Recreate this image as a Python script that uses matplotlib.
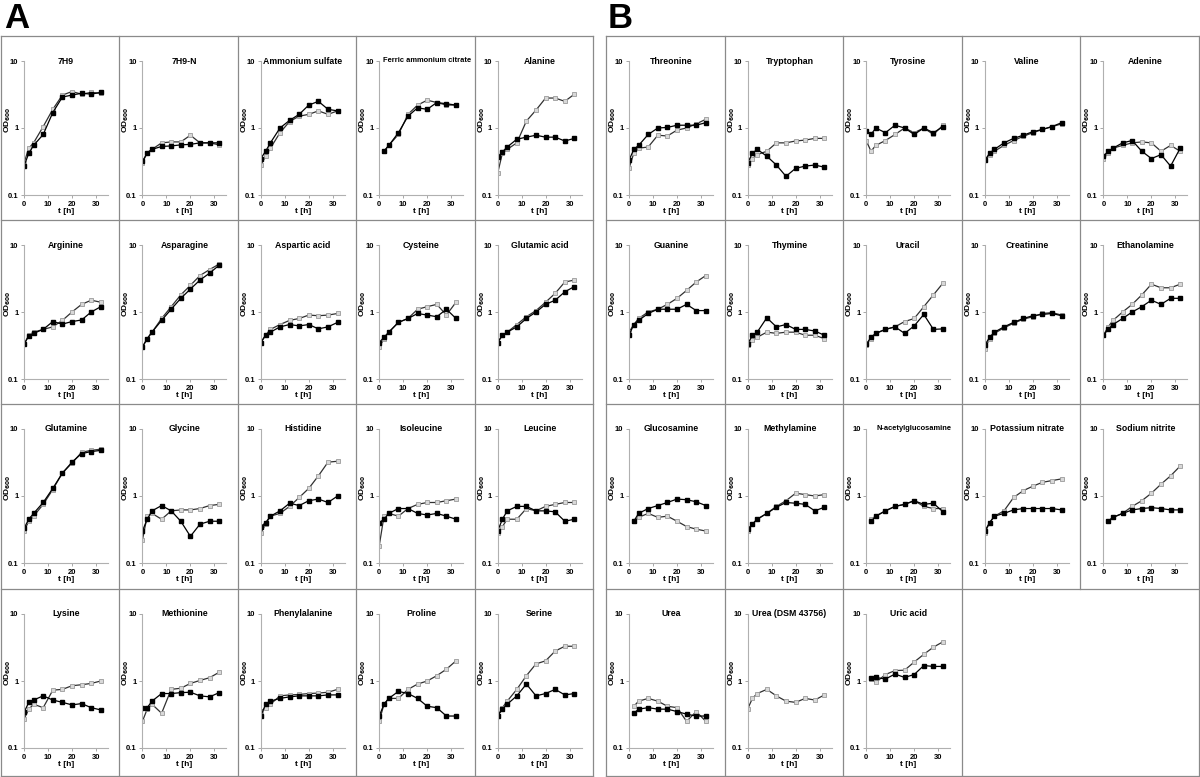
import matplotlib
matplotlib.use("Agg")
import matplotlib.pyplot as plt
from matplotlib.lines import Line2D

plt.rcParams['font.family'] = ['Liberation Sans', 'DejaVu Sans']
plt.rcParams['font.weight'] = 'bold'

# sampling times
T10 = [0, 2, 4, 8, 12, 16, 20, 24, 28, 32]
T9 = [2, 4, 8, 12, 16, 20, 24, 28, 32]

# Panel A
a_titles = ["7H9", "7H9-N", "Ammonium sulfate", "Ferric ammonium citrate", "Alanine",
            "Arginine", "Asparagine", "Aspartic acid", "Cysteine", "Glutamic acid",
            "Glutamine", "Glycine", "Histidine", "Isoleucine", "Leucine",
            "Lysine", "Methionine", "Phenylalanine", "Proline", "Serine"]
a_times = [T10, T10, T10, T9, T10,
           T10, T10, T10, T10, T10,
           T10, T10, T10, T10, T10,
           T10, T10, T10, T10, T10]
a_black = [
    [0.27, 0.42, 0.55, 0.8, 1.7, 2.9, 3.1, 3.3, 3.2, 3.4],
    [0.32, 0.42, 0.48, 0.53, 0.54, 0.56, 0.57, 0.6, 0.6, 0.6],
    [0.35, 0.45, 0.6, 1.0, 1.3, 1.6, 2.2, 2.5, 1.9, 1.8],
    [0.45, 0.55, 0.85, 1.5, 2.0, 1.9, 2.4, 2.3, 2.2],
    [0.37, 0.44, 0.52, 0.68, 0.73, 0.78, 0.73, 0.73, 0.64, 0.7],
    [0.33, 0.44, 0.48, 0.55, 0.72, 0.66, 0.72, 0.76, 1.0, 1.2],
    [0.3, 0.4, 0.5, 0.75, 1.1, 1.6, 2.2, 3.0, 3.8, 5.0],
    [0.35, 0.45, 0.5, 0.6, 0.65, 0.62, 0.65, 0.56, 0.6, 0.7],
    [0.35, 0.42, 0.5, 0.7, 0.8, 0.95, 0.9, 0.85, 1.1, 0.8],
    [0.35, 0.45, 0.5, 0.6, 0.8, 1.0, 1.3, 1.5, 2.0, 2.4],
    [0.33, 0.45, 0.55, 0.8, 1.3, 2.2, 3.2, 4.3, 4.6, 4.8],
    [0.3, 0.45, 0.6, 0.72, 0.6, 0.42, 0.25, 0.38, 0.42, 0.42],
    [0.35, 0.4, 0.5, 0.6, 0.78, 0.72, 0.85, 0.9, 0.8, 1.0],
    [0.4, 0.45, 0.55, 0.65, 0.65, 0.55, 0.52, 0.55, 0.5, 0.45],
    [0.3, 0.45, 0.6, 0.7, 0.7, 0.6, 0.6, 0.58, 0.42, 0.45],
    [0.34, 0.48, 0.52, 0.6, 0.52, 0.48, 0.44, 0.46, 0.4, 0.37],
    [0.4, 0.4, 0.5, 0.65, 0.65, 0.67, 0.68, 0.6, 0.58, 0.67],
    [0.3, 0.45, 0.5, 0.55, 0.58, 0.6, 0.6, 0.6, 0.62, 0.62],
    [0.3, 0.45, 0.55, 0.7, 0.65, 0.55, 0.42, 0.4, 0.3, 0.3],
    [0.3, 0.38, 0.45, 0.6, 0.9, 0.6, 0.65, 0.75, 0.62, 0.65],
]
a_gray = [
    [0.3, 0.5, 0.6, 1.05, 1.9, 3.1, 3.5, 3.2, 3.4, 3.3],
    [0.3, 0.43, 0.48, 0.6, 0.62, 0.62, 0.78, 0.6, 0.6, 0.56],
    [0.28, 0.38, 0.5, 0.85, 1.25, 1.5, 1.6, 1.8, 1.6, 1.8],
    [0.45, 0.55, 0.8, 1.6, 2.2, 2.6, 2.4, 2.2, 2.2],
    [0.21, 0.42, 0.48, 0.6, 1.27, 1.85, 2.8, 2.8, 2.5, 3.2],
    [0.33, 0.45, 0.5, 0.55, 0.6, 0.75, 1.0, 1.3, 1.5, 1.4],
    [0.3, 0.4, 0.5, 0.8, 1.2, 1.8, 2.5, 3.5, 4.3, 5.2],
    [0.35, 0.45, 0.55, 0.65, 0.75, 0.8, 0.9, 0.88, 0.9, 0.95],
    [0.3, 0.4, 0.5, 0.7, 0.8, 1.1, 1.2, 1.3, 0.9, 1.4],
    [0.35, 0.45, 0.5, 0.65, 0.85, 1.05, 1.4, 1.9, 2.8, 3.0],
    [0.3, 0.42, 0.5, 0.75, 1.25, 2.2, 3.1, 4.5, 4.8, 5.0],
    [0.22, 0.5, 0.55, 0.45, 0.6, 0.62, 0.62, 0.65, 0.72, 0.75],
    [0.28, 0.38, 0.5, 0.55, 0.7, 0.95, 1.3, 2.0, 3.2, 3.3],
    [0.18, 0.5, 0.55, 0.5, 0.65, 0.75, 0.8, 0.8, 0.85, 0.9],
    [0.28, 0.35, 0.45, 0.45, 0.65, 0.6, 0.7, 0.75, 0.8, 0.8],
    [0.27, 0.38, 0.45, 0.4, 0.73, 0.75, 0.85, 0.88, 0.92, 1.0],
    [0.25, 0.38, 0.45, 0.33, 0.75, 0.78, 0.92, 1.02, 1.12, 1.35],
    [0.35, 0.4, 0.45, 0.6, 0.62, 0.63, 0.65, 0.66, 0.68, 0.75],
    [0.25, 0.45, 0.55, 0.55, 0.75, 0.9, 1.0, 1.2, 1.5, 2.0],
    [0.3, 0.4, 0.5, 0.75, 1.2, 1.8, 2.0, 2.8, 3.3, 3.3],
]

# Panel B
b_titles = ["Threonine", "Tryptophan", "Tyrosine", "Valine", "Adenine",
            "Guanine", "Thymine", "Uracil", "Creatinine", "Ethanolamine",
            "Glucosamine", "Methylamine", "N-acetylglucosamine", "Potassium nitrate", "Sodium nitrite",
            "Urea", "Urea (DSM 43756)", "Uric acid"]
b_times = [T10, T10, T10, T10, T10,
           T10, T10, T10, T10, T10,
           T9, T10, T9, T10, T9,
           T9, T10, T9]
b_black = [
    [0.33, 0.48, 0.55, 0.8, 1.0, 1.02, 1.1, 1.1, 1.1, 1.2],
    [0.3, 0.42, 0.48, 0.38, 0.28, 0.19, 0.25, 0.27, 0.28, 0.26],
    [0.9, 0.8, 1.0, 0.85, 1.1, 1.0, 0.8, 1.0, 0.85, 1.05],
    [0.33, 0.42, 0.48, 0.6, 0.7, 0.78, 0.88, 0.95, 1.05, 1.2],
    [0.38, 0.45, 0.5, 0.6, 0.65, 0.45, 0.35, 0.4, 0.27, 0.5],
    [0.45, 0.65, 0.75, 0.95, 1.1, 1.1, 1.1, 1.3, 1.05, 1.05],
    [0.33, 0.45, 0.5, 0.82, 0.6, 0.65, 0.55, 0.55, 0.52, 0.45],
    [0.33, 0.42, 0.48, 0.55, 0.6, 0.48, 0.62, 0.92, 0.55, 0.56],
    [0.32, 0.42, 0.5, 0.6, 0.7, 0.8, 0.88, 0.92, 0.95, 0.88],
    [0.45, 0.55, 0.65, 0.8, 1.0, 1.2, 1.5, 1.3, 1.6, 1.6],
    [0.42, 0.55, 0.65, 0.72, 0.8, 0.9, 0.88, 0.82, 0.72],
    [0.32, 0.38, 0.45, 0.55, 0.68, 0.8, 0.78, 0.75, 0.6, 0.68],
    [0.42, 0.5, 0.6, 0.7, 0.75, 0.85, 0.75, 0.78, 0.58],
    [0.3, 0.4, 0.5, 0.55, 0.62, 0.65, 0.65, 0.65, 0.65, 0.62],
    [0.42, 0.48, 0.55, 0.62, 0.65, 0.67, 0.65, 0.62, 0.62],
    [0.33, 0.38, 0.4, 0.38, 0.38, 0.35, 0.32, 0.3, 0.3],
    None,
    [1.09, 1.13, 1.07, 1.27, 1.13, 1.25, 1.7, 1.65, 1.65],
]
b_gray = [
    [0.25, 0.42, 0.5, 0.52, 0.78, 0.76, 0.93, 1.0, 1.15, 1.35],
    [0.28, 0.35, 0.4, 0.45, 0.6, 0.6, 0.64, 0.66, 0.7, 0.7],
    [0.65, 0.45, 0.55, 0.65, 0.8, 1.0, 0.85, 1.0, 0.8, 1.1],
    [0.33, 0.4, 0.45, 0.55, 0.65, 0.75, 0.85, 0.95, 1.05, 1.15],
    [0.35, 0.42, 0.5, 0.55, 0.6, 0.62, 0.6, 0.45, 0.55, 0.45],
    [0.5, 0.65, 0.8, 1.0, 1.1, 1.3, 1.6, 2.1, 2.8, 3.5],
    [0.32, 0.38, 0.42, 0.5, 0.48, 0.5, 0.5, 0.45, 0.45, 0.4],
    [0.32, 0.4, 0.48, 0.55, 0.6, 0.72, 0.8, 1.2, 1.8, 2.7],
    [0.28, 0.4, 0.48, 0.58, 0.68, 0.78, 0.85, 0.95, 0.98, 0.9],
    [0.45, 0.6, 0.75, 1.0, 1.3, 1.8, 2.6, 2.3, 2.3, 2.6],
    [0.42, 0.48, 0.55, 0.48, 0.5, 0.42, 0.35, 0.32, 0.3],
    [0.3, 0.38, 0.45, 0.55, 0.7, 0.85, 1.1, 1.05, 1.0, 1.05],
    [0.45, 0.5, 0.6, 0.7, 0.75, 0.85, 0.7, 0.65, 0.65],
    [0.28, 0.4, 0.5, 0.6, 0.95, 1.2, 1.4, 1.6, 1.7, 1.8],
    [0.42, 0.48, 0.55, 0.7, 0.85, 1.1, 1.5, 2.0, 2.8],
    [0.42, 0.5, 0.55, 0.5, 0.42, 0.4, 0.25, 0.35, 0.25],
    [0.38, 0.55, 0.65, 0.75, 0.6, 0.5, 0.48, 0.55, 0.52, 0.62],
    [1.06, 0.95, 1.25, 1.43, 1.45, 1.92, 2.5, 3.2, 3.85],
]

W, H = 1200, 777
fig = plt.figure(figsize=(12, 7.77), dpi=100)
fig.patch.set_facecolor('white')

row_tops = [36, 220, 404, 589]
frame_col = '#8a8a8a'


def fx(x):
    return x / W


def fy(y):
    return 1 - y / H


def hline(x0, x1, y):
    fig.add_artist(Line2D([fx(x0), fx(x1)], [fy(y), fy(y)], color=frame_col, lw=0.9))


def vline(x, y0, y1):
    fig.add_artist(Line2D([fx(x), fx(x)], [fy(y0), fy(y1)], color=frame_col, lw=0.9))


def draw_cell(x0, top, title, t, black, gray):
    left = x0 + 23
    ax = fig.add_axes([fx(left), fy(top + 159), 84 / W, 134 / H])
    if gray is not None:
        ax.plot(t, gray, '-s', color='#303030', lw=0.9, ms=3.2,
                mfc='#d8d8d8', mec='#9a9a9a', mew=0.6)
    if black is not None:
        ax.plot(t, black, '-s', color='black', lw=0.9, ms=3.2, mfc='black', mec='black')
    ax.set_yscale('log')
    ax.set_ylim(0.1, 10)
    ax.set_xlim(0, 35)
    ax.set_yticks([0.1, 1, 10])
    ax.set_yticklabels(['0.1', '1', '10'])
    ax.minorticks_off()
    ax.set_xticks([0, 10, 20, 30])
    ax.tick_params(labelsize=5.5, length=2, width=0.6, color='#999999', pad=2)
    for lab in ax.get_xticklabels() + ax.get_yticklabels():
        lab.set_fontweight('bold')
    for s in ['top', 'right']:
        ax.spines[s].set_visible(False)
    for s in ['left', 'bottom']:
        ax.spines[s].set_color('#b0b0b0')
        ax.spines[s].set_linewidth(0.8)
    ax.set_facecolor('none')
    ax.set_xlabel('t [h]', fontsize=6, fontweight='bold', labelpad=0.5)
    ax.set_ylabel('OD$_{600}$', fontsize=6, fontweight='bold')
    ax.yaxis.set_label_coords(-0.13, 0.56)
    fs, xc = 6.3, 0.5
    if len(title) > 18:
        fs, xc = 5.4, 0.57
    ax.text(xc, 1.0, title, transform=ax.transAxes, ha='center', va='center',
            fontsize=fs, fontweight='bold')


# panel A
ax0, cw_a = 1, 118.4
for i, name in enumerate(a_titles):
    r, c = divmod(i, 5)
    draw_cell(ax0 + c * cw_a, row_tops[r], name, a_times[i], a_black[i], a_gray[i])

# panel B
bx0, cw_b = 606, 118.6
for i, name in enumerate(b_titles):
    r, c = divmod(i, 5)
    draw_cell(bx0 + c * cw_b, row_tops[r], name, b_times[i], b_black[i], b_gray[i])

# frames
bottom = 776
for x0, cw in [(ax0, cw_a), (bx0, cw_b)]:
    x1 = x0 + 5 * cw
    hline(x0, x1, row_tops[0])
    hline(x0, x1, bottom)
    for r in range(1, 4):
        hline(x0, x1, row_tops[r])
    vline(x0, row_tops[0], bottom)
    vline(x1, row_tops[0], bottom)
    for c in range(1, 5):
        yb = bottom
        if x0 == bx0 and c == 4:
            yb = row_tops[3]
        vline(x0 + c * cw, row_tops[0], yb)

fig.text(fx(4), fy(2), 'A', fontsize=25, fontweight='bold', ha='left', va='top')
fig.text(fx(608), fy(2), 'B', fontsize=25, fontweight='bold', ha='left', va='top')

fig.savefig('out.png', dpi=100)
